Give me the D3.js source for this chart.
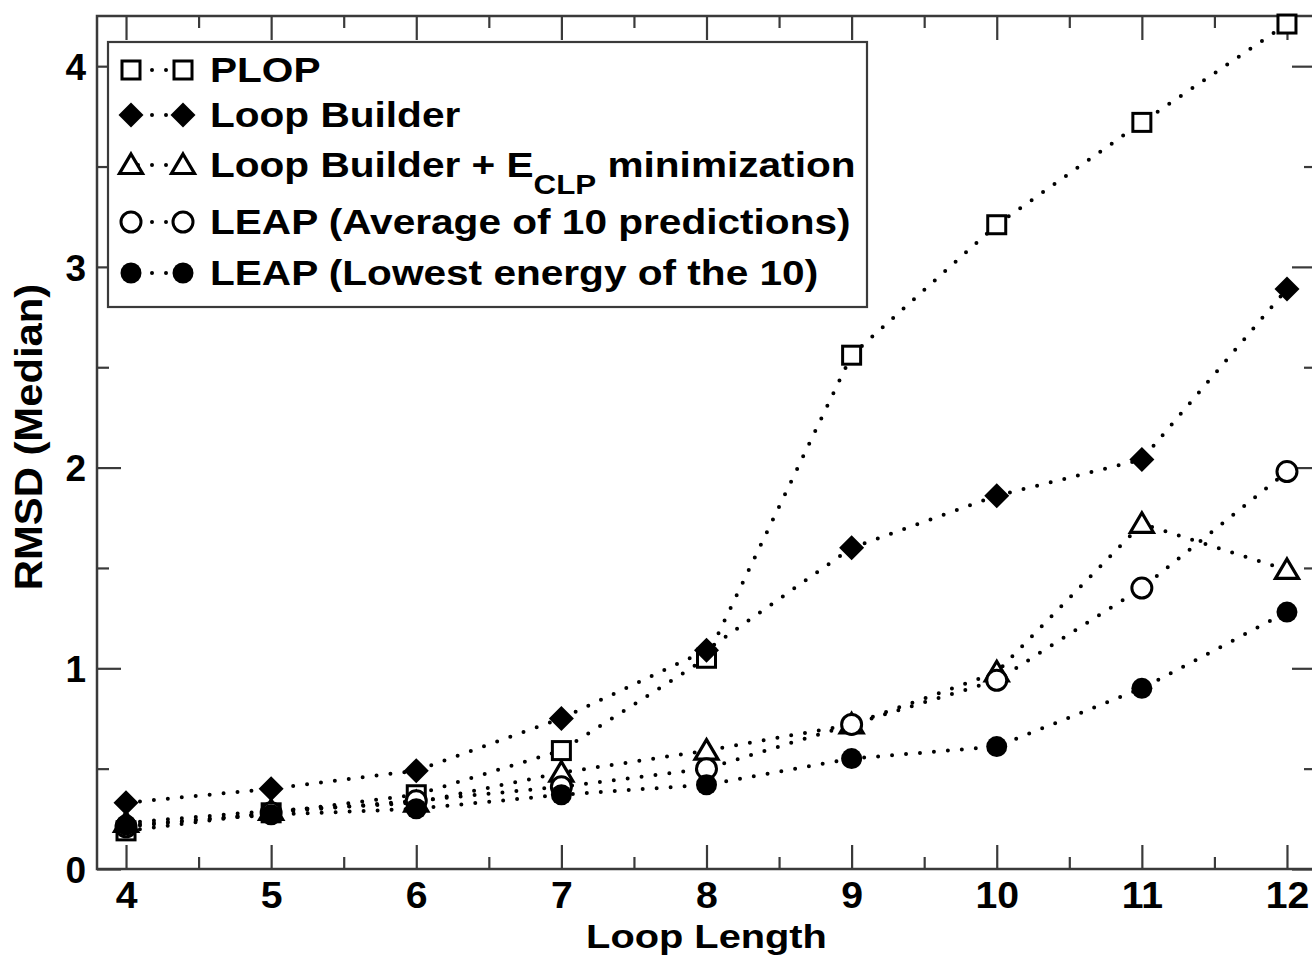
<!DOCTYPE html>
<html>
<head>
<meta charset="utf-8">
<script src="https://cdn.jsdelivr.net/npm/d3@7"></script>
<style>
  html, body { margin: 0; padding: 0; background: #fff; }
  svg { display: block; }
  text { font-family: "Liberation Sans", Arial, Helvetica, sans-serif; font-weight: bold; fill: #000; }
</style>
</head>
<body>
<svg id="chart" width="1312" height="963"></svg>
<script>
// ---------------- data ----------------
const loopLength   = [4, 5, 6, 7, 8, 9, 10, 11, 12];
const plop         = [0.19, 0.28, 0.37, 0.59, 1.05, 2.56, 3.21, 3.72, 4.21];
const loopBuilder  = [0.33, 0.40, 0.49, 0.75, 1.09, 1.60, 1.86, 2.04, 2.89];
const lbEclp       = [0.23, 0.29, 0.33, 0.48, 0.59, 0.72, 0.98, 1.72, 1.49];
const leapAverage  = [0.21, 0.28, 0.34, 0.41, 0.50, 0.72, 0.94, 1.40, 1.98];
const leapLowest   = [0.22, 0.27, 0.30, 0.37, 0.42, 0.55, 0.61, 0.90, 1.28];

const xMajorTicks = [4, 5, 6, 7, 8, 9, 10, 11, 12];
const xMinorTicks = [4.5, 5.5, 6.5, 7.5, 8.5, 9.5, 10.5, 11.5];
const yMajorTicks = [0, 1, 2, 3, 4];
const yMinorTicks = [0.5, 1.5, 2.5, 3.5];

const seriesNames = ["PLOP", "Loop Builder", "Loop Builder + E", "LEAP (Average of 10 predictions)", "LEAP (Lowest energy of the 10)"];
const seriesSymbols = ["square", "diamond", "triangle", "circleOpen", "circleFilled"];
const seriesValues = [plop, loopBuilder, lbEclp, leapAverage, leapLowest];

const xTitle = "Loop Length";
const yTitle = "RMSD (Median)";

// ---------------- layout ----------------
const svg = d3.select("#chart");
const pLeft = 97, pRight = 1316, pTop = 16, pBottom = 869;
const x = d3.scaleLinear().domain([3.8, 12.2]).range([pLeft, pRight]);
const y = d3.scaleLinear().domain([0, 4.25]).range([pBottom, pTop]);

const frameColor = "#3a3a3a";
const MAJ = 24, MIN = 12;

function styleAxis(g) {
  g.select(".domain").remove();
  g.selectAll(".tick line").attr("stroke", frameColor).attr("stroke-width", 2.2);
}

// minor + major ticks on all four sides (inward)
svg.append("g").attr("transform", `translate(0,${pBottom})`)
  .call(d3.axisBottom(x).tickValues(xMinorTicks).tickSize(-MIN).tickFormat("")).call(styleAxis);
svg.append("g").attr("transform", `translate(0,${pTop})`)
  .call(d3.axisTop(x).tickValues(xMinorTicks).tickSize(-MIN).tickFormat("")).call(styleAxis);
svg.append("g").attr("transform", `translate(0,${pTop})`)
  .call(d3.axisTop(x).tickValues(xMajorTicks).tickSize(-MAJ).tickFormat("")).call(styleAxis);
svg.append("g").attr("transform", `translate(${pLeft},0)`)
  .call(d3.axisLeft(y).tickValues(yMinorTicks).tickSize(-MIN).tickFormat("")).call(styleAxis);
svg.append("g").attr("transform", `translate(${pRight},0)`)
  .call(d3.axisRight(y).tickValues(yMinorTicks).tickSize(-MIN).tickFormat("")).call(styleAxis);
svg.append("g").attr("transform", `translate(${pRight},0)`)
  .call(d3.axisRight(y).tickValues(yMajorTicks).tickSize(-MAJ).tickFormat("")).call(styleAxis);

// labelled major axes
const xAxisG = svg.append("g").attr("transform", `translate(0,${pBottom})`)
  .call(d3.axisBottom(x).tickValues(xMajorTicks).tickSize(-MAJ).tickPadding(13).tickFormat(d3.format("d")))
  .call(styleAxis);
xAxisG.selectAll(".tick text")
  .attr("font-size", 37).attr("font-family", null)
  .attr("transform", "scale(1.06,1)");

const yAxisG = svg.append("g").attr("transform", `translate(${pLeft},0)`)
  .call(d3.axisLeft(y).tickValues(yMajorTicks).tickSize(-MAJ).tickPadding(11).tickFormat(d3.format("d")))
  .call(styleAxis);
yAxisG.selectAll(".tick text")
  .attr("font-size", 37).attr("font-family", null)
  .attr("dy", "0.36em");

// frame
svg.append("rect")
  .attr("x", pLeft).attr("y", pTop)
  .attr("width", pRight - pLeft).attr("height", pBottom - pTop)
  .attr("fill", "none").attr("stroke", frameColor).attr("stroke-width", 2.5);

// axis titles
svg.append("text")
  .attr("transform", `translate(${(pLeft + pRight) / 2},948) scale(1.17,1)`)
  .attr("text-anchor", "middle").attr("font-size", 34)
  .text(xTitle);
svg.append("text")
  .attr("transform", `translate(42,437) rotate(-90) scale(1.1,1)`)
  .attr("text-anchor", "middle").attr("font-size", 38)
  .text(yTitle);

// ---------------- markers ----------------
function drawMarker(g, type, cx, cy) {
  if (type === "square") {
    g.append("rect").attr("x", cx - 9).attr("y", cy - 9).attr("width", 18).attr("height", 18)
      .attr("fill", "#fff").attr("stroke", "#000").attr("stroke-width", 3);
  } else if (type === "diamond") {
    g.append("path").attr("d", `M${cx},${cy - 12.5}L${cx + 12.5},${cy}L${cx},${cy + 12.5}L${cx - 12.5},${cy}Z`)
      .attr("fill", "#000");
  } else if (type === "triangle") {
    g.append("path").attr("d", `M${cx},${cy - 11}L${cx + 11.5},${cy + 8.5}L${cx - 11.5},${cy + 8.5}Z`)
      .attr("fill", "#fff").attr("stroke", "#000").attr("stroke-width", 3.2).attr("stroke-linejoin", "miter");
  } else if (type === "circleOpen") {
    g.append("circle").attr("cx", cx).attr("cy", cy).attr("r", 10)
      .attr("fill", "#fff").attr("stroke", "#000").attr("stroke-width", 3);
  } else if (type === "circleFilled") {
    g.append("circle").attr("cx", cx).attr("cy", cy).attr("r", 10.5).attr("fill", "#000");
  }
}

const line = d3.line().x(d => x(d[0])).y(d => y(d[1]));
const dotted = sel => sel.attr("fill", "none").attr("stroke", "#000").attr("stroke-width", 4)
  .attr("stroke-linecap", "round").attr("stroke-dasharray", "0 14");

const linesG = svg.append("g");
seriesValues.forEach(vals => {
  linesG.append("path").datum(loopLength.map((l, i) => [l, vals[i]])).attr("d", line).call(dotted);
});
const markersG = svg.append("g");
seriesValues.forEach((vals, s) => {
  loopLength.forEach((l, i) => drawMarker(markersG, seriesSymbols[s], x(l), y(vals[i])));
});

// ---------------- legend ----------------
const lg = svg.append("g");
lg.append("rect").attr("x", 108).attr("y", 42).attr("width", 759).attr("height", 265)
  .attr("fill", "#fff").attr("stroke", frameColor).attr("stroke-width", 2.2);
const rowY = [70, 115, 165, 222, 273];
seriesNames.forEach((name, s) => {
  const cy = rowY[s];
  lg.append("path").attr("d", `M131,${cy}L183,${cy}`).call(dotted).attr("stroke-dashoffset", -7);
  drawMarker(lg, seriesSymbols[s], 131, cy);
  drawMarker(lg, seriesSymbols[s], 183, cy);
  const t = lg.append("text")
    .attr("transform", `translate(210,${cy + 12}) scale(1.16,1)`)
    .attr("font-size", 35);
  if (s === 2) {
    t.append("tspan").text(name);
    t.append("tspan").attr("font-size", 27).attr("dy", 17).text("CLP");
    t.append("tspan").attr("dy", -17).text(" minimization");
  } else {
    t.text(name);
  }
});
</script>
</body>
</html>
